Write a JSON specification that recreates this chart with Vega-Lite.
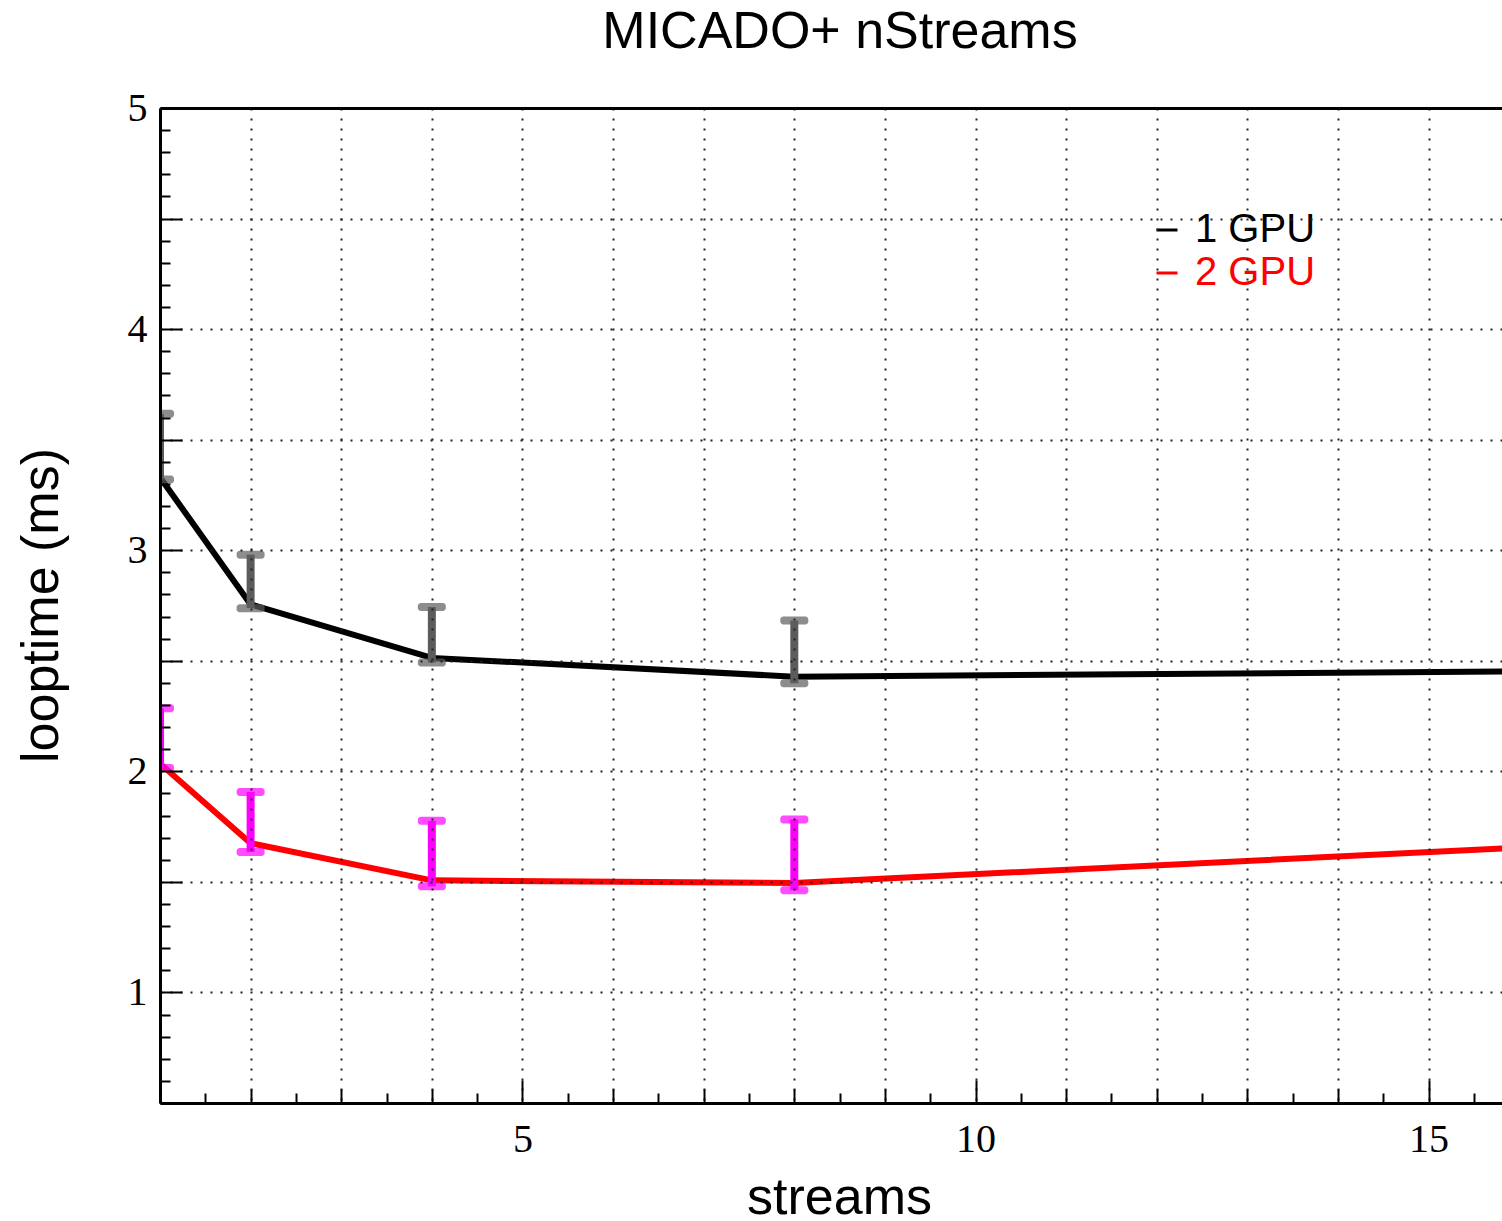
{
  "$schema": "https://vega.github.io/schema/vega-lite/v6.json",
  "autosize": {"type": "none"},
  "width": 1342,
  "height": 995,
  "padding": {"left": 160, "top": 108, "right": 0, "bottom": 118},
  "background": "white",
  "title": {
    "text": "MICADO+ nStreams",
    "font": "Liberation Sans",
    "fontSize": 52,
    "fontWeight": "normal",
    "color": "black",
    "anchor": "middle",
    "dx": 9,
    "dy": 23,
    "baseline": "alphabetic",
    "offset": 11
  },
  "data": {
    "values": [
      {"streams": 1, "gpu": "1 GPU", "t": 3.33, "lo": 3.32, "hi": 3.617},
      {"streams": 2, "gpu": "1 GPU", "t": 2.755, "lo": 2.738, "hi": 2.98},
      {"streams": 4, "gpu": "1 GPU", "t": 2.513, "lo": 2.492, "hi": 2.743},
      {"streams": 8, "gpu": "1 GPU", "t": 2.428, "lo": 2.398, "hi": 2.682},
      {"streams": 16, "gpu": "1 GPU", "t": 2.452},
      {"streams": 1, "gpu": "2 GPU", "t": 2.035, "lo": 2.015, "hi": 2.285},
      {"streams": 2, "gpu": "2 GPU", "t": 1.675, "lo": 1.635, "hi": 1.907},
      {"streams": 4, "gpu": "2 GPU", "t": 1.507, "lo": 1.48, "hi": 1.776},
      {"streams": 8, "gpu": "2 GPU", "t": 1.495, "lo": 1.462, "hi": 1.782},
      {"streams": 16, "gpu": "2 GPU", "t": 1.655}
    ]
  },
  "resolve": {"axis": {"x": "independent", "y": "independent"}},
  "layer": [
    {
      "mark": {"type": "line", "clip": true, "strokeWidth": 6, "strokeJoin": "round"},
      "encoding": {
        "x": {
          "field": "streams",
          "type": "quantitative",
          "scale": {"domain": [1, 15.81], "nice": false, "zero": false},
          "axis": {
            "orient": "bottom",
            "zindex": 1,
            "values": [1, 1.5, 2, 2.5, 3, 3.5, 4, 4.5, 5, 5.5, 6, 6.5, 7, 7.5, 8, 8.5, 9, 9.5, 10, 10.5, 11, 11.5, 12, 12.5, 13, 13.5, 14, 14.5, 15, 15.5],
            "title": "streams",
            "titleFont": "Liberation Sans",
            "titleFontSize": 52,
            "titleFontWeight": "normal",
            "titleColor": "black",
            "titleX": 679,
            "titleY": 110,
            "titleAlign": "center",
            "titleBaseline": "alphabetic",
            "labelExpr": "datum.value % 5 === 0 ? format(datum.value, 'd') : ''",
            "labelFont": "Liberation Serif",
            "labelFontSize": 40,
            "labelColor": "black",
            "labelPadding": 39,
            "labelFlush": false,
            "labelOverlap": false,
            "domainColor": "black",
            "domainWidth": 3,
            "tickColor": "black",
            "tickWidth": 2,
            "tickSize": {"condition": [{"test": "datum.value % 5 === 0", "value": -23}, {"test": "datum.value % 1 === 0", "value": -14}], "value": -10},
            "grid": true,
            "gridColor": "#222222",
            "gridWidth": 2,
            "gridDash": [2, 8],
            "gridOpacity": {"condition": {"test": "datum.value % 1 === 0", "value": 1}, "value": 0}
          }
        },
        "y": {
          "field": "t",
          "type": "quantitative",
          "scale": {"domain": [0.5, 5], "nice": false, "zero": false},
          "axis": {
            "orient": "left",
            "zindex": 1,
            "values": [0.5, 0.6, 0.7, 0.8, 0.9, 1, 1.1, 1.2, 1.3, 1.4, 1.5, 1.6, 1.7, 1.8, 1.9, 2, 2.1, 2.2, 2.3, 2.4, 2.5, 2.6, 2.7, 2.8, 2.9, 3, 3.1, 3.2, 3.3, 3.4, 3.5, 3.6, 3.7, 3.8, 3.9, 4, 4.1, 4.2, 4.3, 4.4, 4.5, 4.6, 4.7, 4.8, 4.9, 5],
            "title": "looptime (ms)",
            "titleFont": "Liberation Sans",
            "titleFontSize": 52,
            "titleFontWeight": "normal",
            "titleColor": "black",
            "titleAngle": 270,
            "titleX": -103,
            "titleY": 497,
            "titleAlign": "center",
            "titleBaseline": "alphabetic",
            "labelExpr": "datum.value % 1 === 0 ? format(datum.value, 'd') : ''",
            "labelFont": "Liberation Serif",
            "labelFontSize": 40,
            "labelColor": "black",
            "labelPadding": 35,
            "labelFlush": false,
            "labelOverlap": false,
            "domainColor": "black",
            "domainWidth": 3,
            "tickColor": "black",
            "tickWidth": 2,
            "tickSize": {"condition": {"test": "datum.value % 0.5 === 0", "value": -22}, "value": -10},
            "grid": true,
            "gridColor": "#222222",
            "gridWidth": 2,
            "gridDash": [2, 8],
            "gridOpacity": {"condition": {"test": "datum.value % 0.5 === 0", "value": 1}, "value": 0}
          }
        },
        "color": {
          "field": "gpu",
          "type": "nominal",
          "scale": {"domain": ["1 GPU", "2 GPU"], "range": ["#000000", "#ff0000"]},
          "legend": {
            "orient": "none",
            "legendX": 987,
            "legendY": 102,
            "title": null,
            "padding": 0,
            "symbolType": "stroke",
            "symbolSize": 441,
            "symbolStrokeWidth": 3,
            "labelFont": "Liberation Sans",
            "labelFontSize": 40,
            "labelOffset": 8,
            "rowPadding": 3,
            "encode": {
              "labels": {"update": {"fill": {"signal": "datum.label === '2 GPU' ? '#ff0000' : '#000000'"}}}
            }
          }
        }
      }
    },
    {
      "transform": [{"filter": "isValid(datum.hi)"}],
      "mark": {"type": "rule", "clip": true, "strokeWidth": 8},
      "encoding": {
        "x": {
          "field": "streams",
          "type": "quantitative",
          "axis": {"orient": "top", "zindex": 1, "labels": false, "ticks": false, "grid": false, "title": null, "domainColor": "black", "domainWidth": 3}
        },
        "y": {"field": "lo", "type": "quantitative", "axis": null},
        "y2": {"field": "hi"},
        "stroke": {
          "field": "gpu",
          "type": "nominal",
          "scale": {"domain": ["1 GPU", "2 GPU"], "range": ["#5c5c5c", "#ff00ff"]},
          "legend": null
        }
      }
    },
    {
      "transform": [{"filter": "isValid(datum.hi)"}],
      "mark": {"type": "tick", "clip": true, "orient": "horizontal", "size": 28, "thickness": 8, "cornerRadius": 3},
      "encoding": {
        "x": {"field": "streams", "type": "quantitative", "axis": null},
        "y": {"field": "lo", "type": "quantitative", "axis": null},
        "fill": {
          "field": "gpu",
          "type": "nominal",
          "scale": {"domain": ["1 GPU", "2 GPU"], "range": ["#5c5c5c", "#ff00ff"]},
          "legend": null
        }
      }
    },
    {
      "transform": [{"filter": "isValid(datum.hi)"}],
      "mark": {"type": "tick", "clip": true, "orient": "horizontal", "size": 28, "thickness": 8, "cornerRadius": 3},
      "encoding": {
        "x": {"field": "streams", "type": "quantitative", "axis": null},
        "y": {"field": "hi", "type": "quantitative", "axis": null},
        "fill": {
          "field": "gpu",
          "type": "nominal",
          "scale": {"domain": ["1 GPU", "2 GPU"], "range": ["#5c5c5c", "#ff00ff"]},
          "legend": null
        }
      }
    }
  ],
  "config": {
    "view": {"stroke": null},
    "font": "Liberation Sans"
  }
}
